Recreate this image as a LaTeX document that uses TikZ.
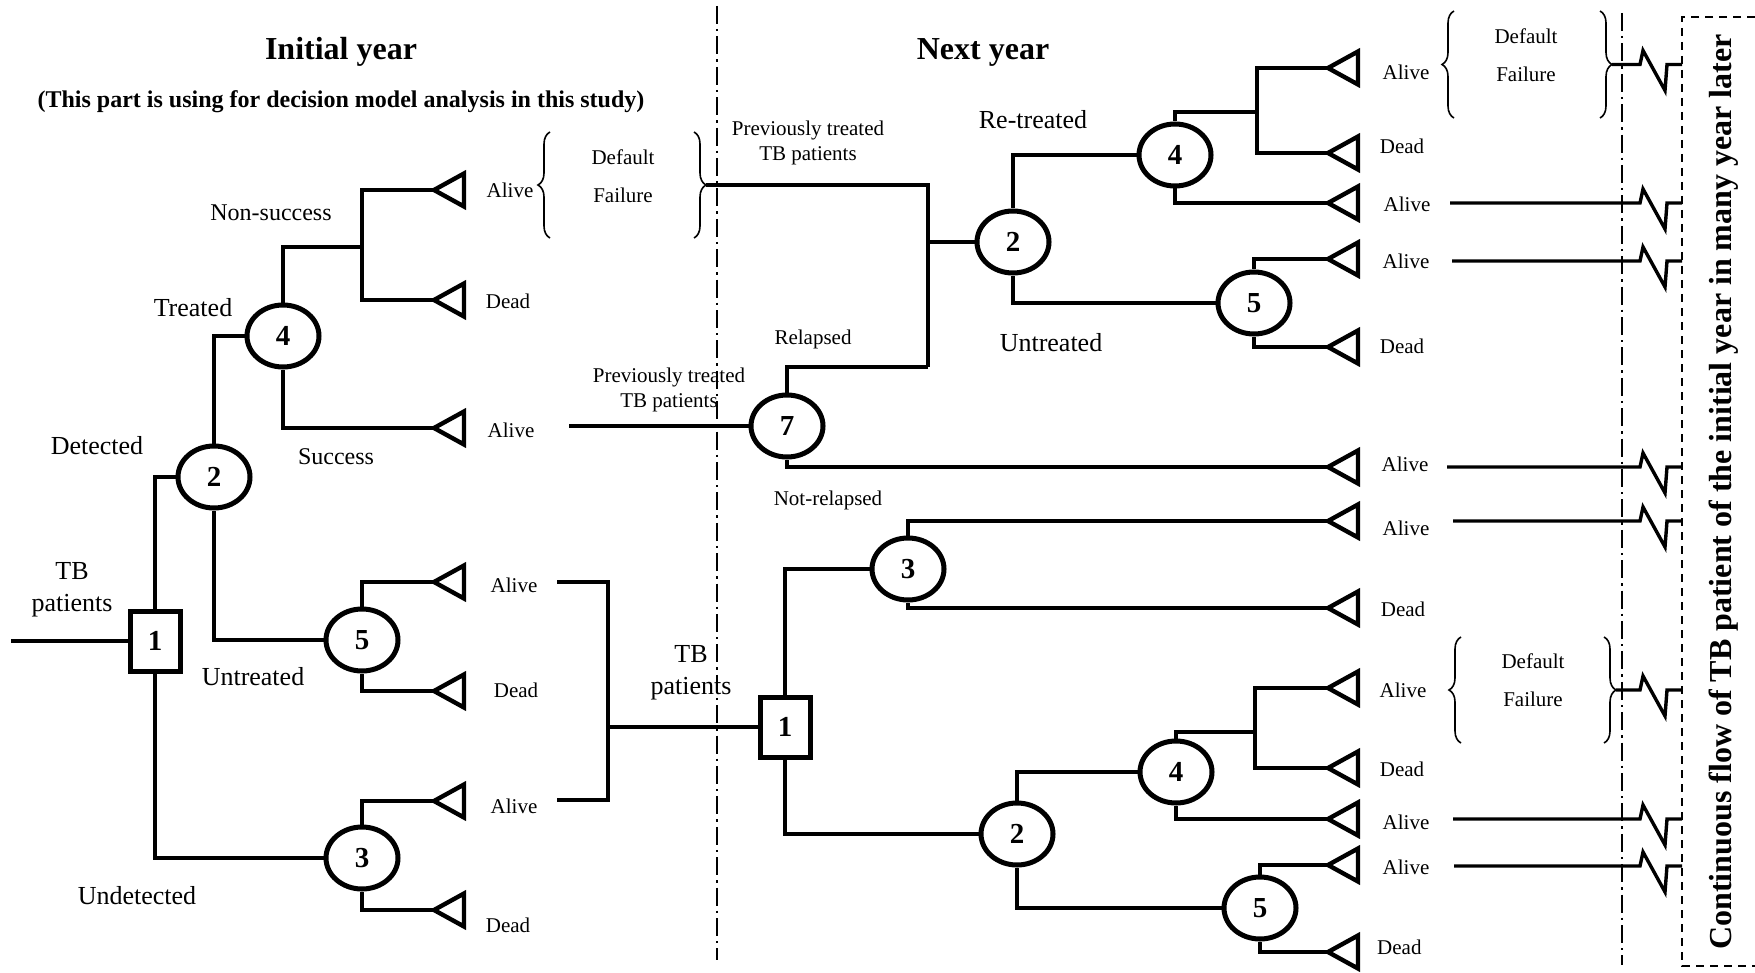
\documentclass[tikz,border=0pt]{standalone}
\usepackage{fontspec}
\setmainfont{Liberation Serif}
\usetikzlibrary{shapes.geometric,decorations.pathreplacing,calc}

\tikzset{
  branch/.style={line width=1.7pt},
  chance/.style={draw, ellipse, line width=2.5pt, minimum width=36pt, minimum height=31pt,
    inner sep=0pt, font=\fontsize{14.5}{14.5}\selectfont\bfseries},
  decision/.style={draw, rectangle, line width=2.5pt, minimum width=25pt, minimum height=30pt,
    inner sep=0pt, font=\fontsize{14.5}{14.5}\selectfont\bfseries},
  endtri/.style={line width=2.2pt},
  small/.style={font=\fontsize{10.5}{12.5}\selectfont, align=center},
  mid/.style={font=\fontsize{13}{16}\selectfont, align=center},
  curly/.style={decorate, decoration={brace, amplitude=6pt}, line width=0.8pt},
  divider/.style={line width=1.2pt, dash pattern=on 9pt off 2.5pt on 1.2pt off 2.5pt},
  laterbox/.style={line width=1pt, dash pattern=on 4pt off 3pt}
}

\begin{document}
\begin{tikzpicture}[x=0.5pt, y=-0.5pt]
  \useasboundingbox (0,0) rectangle (1755,973);

  % Titles
  \node[font=\fontsize{16}{16}\selectfont\bfseries] (tInit) at (341,52) {Initial year};
  \node[font=\fontsize{12}{12}\selectfont\bfseries] (tSub) at (341,102)
    {(This part is using for decision model analysis in this study)};
  \node[font=\fontsize{16}{16}\selectfont\bfseries] (tNext) at (983,52) {Next year};
  \node[font=\fontsize{16}{16}\selectfont\bfseries, rotate=90] (tLater) at (1724,492)
    {Continuous flow of TB patient of the initial year in many year later};

  % Year dividers and box
  \draw[divider] (717,6) -- (717,960);
  \draw[divider] (1622,13) -- (1622,965);
  \draw[laterbox] (1755,17) -| (1682,966) -- (1755,966);

  % Terminal triangles
  \foreach \t/\x/\y in {
    aL1/434/190, dL1/434/300, aL2/434/428, aL3/434/582, dL3/434/691, aL4/434/801, dL4/434/910,
    r1/1328/68, r2/1328/153, r3/1328/203, r4/1328/259, r5/1328/347, r6/1328/467,
    r7/1328/521, r8/1328/608, r9/1328/688, r10/1328/768, r11/1328/819, r12/1328/865, r13/1328/952
  }{
    \coordinate (\t) at (\x,\y);
    \draw[endtri] (\t) -- ++(30,-16.5) -- ++(0,33) -- cycle;
  }

  % Terminal labels
  \foreach \x/\y/\s [count=\i] in {
    510/190/Alive, 508/301/Dead, 511/430/Alive, 514/585/Alive, 516/690/Dead, 514/806/Alive, 508/925/Dead,
    1406/72/Alive, 1402/146/Dead, 1407/204/Alive, 1406/261/Alive, 1402/346/Dead, 1405/464/Alive,
    1406/528/Alive, 1403/609/Dead, 1403/690/Alive, 1402/769/Dead, 1406/822/Alive, 1406/867/Alive,
    1402/947/Dead
  }{
    \node[small] (out\i) at (\x,\y) {\s};
  }

  % Default / failure groups
  \foreach \x/\y [count=\i] in {623/157, 1526/36, 1533/661}{
    \node[small] (def\i) at (\x,\y) {Default};
    \node[small] (fail\i) at (\x,\y+38) {Failure};
  }
  \draw[curly] (550,238) -- (550,132);
  \draw[curly] (694,132) -- (694,238);
  \draw[curly] (1454,118) -- (1454,11);
  \draw[curly] (1600,11) -- (1600,118);
  \draw[curly] (1461,743) -- (1461,637);
  \draw[curly] (1604,637) -- (1604,743);

  % Initial year tree
  \coordinate (in) at (11,641);
  \node[decision] (L1) at (155,641) {1};
  \node[chance] (L2) at (214,477) {2};
  \node[chance] (L4) at (283,336) {4};
  \node[chance] (L5) at (362,640) {5};
  \node[chance] (L3) at (362,858) {3};
  \coordinate (jL4) at (362,247);

  \draw[branch] (in) -- (L1);
  \draw[branch] (L1) |- (L2);
  \draw[branch] (L1) |- (L3);
  \draw[branch] (L2) |- (L4);
  \draw[branch] (L2) |- (L5);
  \draw[branch] (L4) |- (jL4);
  \draw[branch] (aL1) -| (jL4) |- (dL1);
  \draw[branch] (L4) |- (aL2);
  \draw[branch] (L5) |- (aL3);
  \draw[branch] (L5) |- (dL3);
  \draw[branch] (L3) |- (aL4);
  \draw[branch] (L3) |- (dL4);

  \node[mid] (lbTB) at (72,590) {TB\\patients};
  \node[mid] (lbDet) at (97,446) {Detected};
  \node[mid] (lbTrt) at (193,308) {Treated};
  \node[font=\fontsize{12}{12}\selectfont] (lbNon) at (271,213) {Non-success};
  \node[font=\fontsize{12}{12}\selectfont] (lbSuc) at (336,457) {Success};
  \node[mid] (lbUnt) at (253,677) {Untreated};
  \node[mid] (lbUnd) at (137,896) {Undetected};

  % Next year: previously treated
  \coordinate (fA) at (706,185);
  \coordinate (pA) at (928,185);
  \coordinate (pB) at (928,367);
  \coordinate (sA) at (569,426);
  \node[chance] (N7) at (787,426) {7};
  \node[chance] (N2) at (1013,242) {2};
  \node[chance] (N4) at (1175,155) {4};
  \node[chance] (N5) at (1254,303) {5};
  \coordinate (jN4) at (1257,112);

  \draw[branch] (fA) -- (pA) -- (pB);
  \draw[branch] (sA) -- (N7);
  \draw[branch] (N7) |- (pB);
  \draw[branch] (N7) |- (r6);
  \draw[branch] (pA |- N2) -- (N2);
  \draw[branch] (N2) |- (N4);
  \draw[branch] (N2) |- (N5);
  \draw[branch] (N4) |- (jN4);
  \draw[branch] (r1) -| (jN4) |- (r2);
  \draw[branch] (N4) |- (r3);
  \draw[branch] (N5) |- (r4);
  \draw[branch] (N5) |- (r5);

  \node[small] (lbPrevA) at (808,143) {Previously treated\\TB patients};
  \node[small] (lbPrevB) at (669,390) {Previously treated\\TB patients};
  \node[small] (lbRel) at (813,339) {Relapsed};
  \node[small] (lbNot) at (828,500) {Not-relapsed};
  \node[mid] (lbRe) at (1033,120) {Re-treated};
  \node[mid] (lbUntB) at (1051,343) {Untreated};

  % Next year: new cases
  \coordinate (bk1) at (557,582);
  \coordinate (bkA) at (608,582);
  \coordinate (bkB) at (608,800);
  \coordinate (bk2) at (557,800);
  \node[decision] (S1) at (785,727) {1};
  \node[chance] (N3b) at (908,569) {3};
  \node[chance] (N2b) at (1017,834) {2};
  \node[chance] (N4b) at (1176,772) {4};
  \node[chance] (N5b) at (1260,908) {5};
  \coordinate (jN4b) at (1255,732);

  \draw[branch] (bk1) -- (bkA) -- (bkB) -- (bk2);
  \draw[branch] (bkA |- S1) -- (S1);
  \draw[branch] (S1) |- (N3b);
  \draw[branch] (S1) |- (N2b);
  \draw[branch] (N3b) |- (r7);
  \draw[branch] (N3b) |- (r8);
  \draw[branch] (N2b) |- (N4b);
  \draw[branch] (N2b) |- (N5b);
  \draw[branch] (N4b) |- (jN4b);
  \draw[branch] (r9) -| (jN4b) |- (r10);
  \draw[branch] (N4b) |- (r11);
  \draw[branch] (N5b) |- (r12);
  \draw[branch] (N5b) |- (r13);

  \node[mid] (lbTBb) at (691,673) {TB\\patients};

  % Flow into later years
  \foreach \s/\y [count=\i] in {1612/64.5, 1450/203, 1452/261, 1447/467, 1453/521, 1616/690, 1453/819, 1454/866}{
    \coordinate (zs\i) at (\s,\y);
    \coordinate (ze\i) at (1682,\y);
    \draw[branch] (zs\i) -- (1640,\y) -- (1643,{\y-14}) -- (1665,{\y+26}) -- (1667,\y) -- (ze\i);
  }
\end{tikzpicture}
\end{document}
